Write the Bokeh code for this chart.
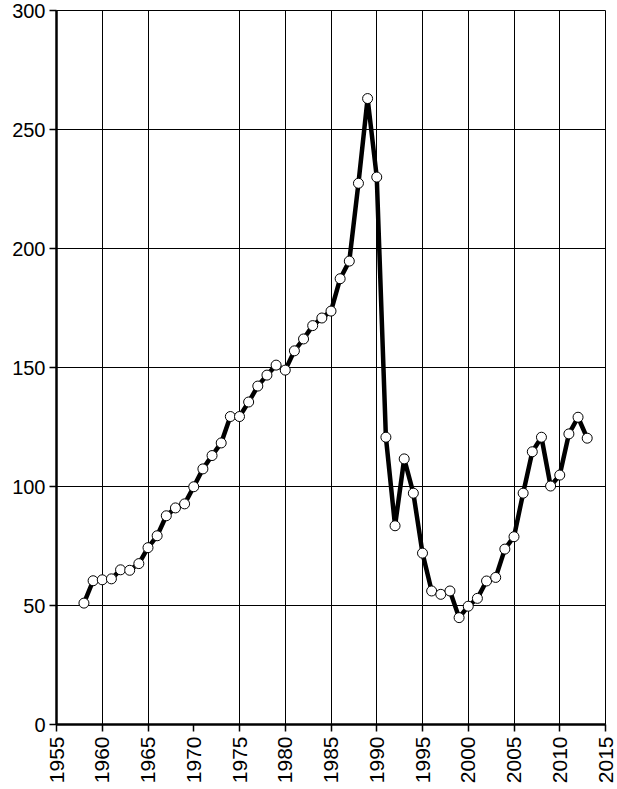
from bokeh.plotting import figure
from bokeh.models import Range1d, FixedTicker
from bokeh.embed import file_html
from bokeh.resources import INLINE
import math

years = list(range(1958, 2014))
values = [51, 60.4, 60.8, 61.2, 65, 64.8, 67.6, 74.3, 79.3, 87.7,
          91, 92.7, 99.9, 107.4, 113, 118.3, 129.4, 129.4, 135.5, 142.2,
          146.8, 151, 148.9, 157, 162, 167.6, 170.8, 173.7, 187.3, 194.7,
          227.4, 263, 230, 120.7, 83.5, 111.6, 97.2, 72, 56.1, 54.7,
          56.1, 44.9, 49.7, 53, 60.3, 61.8, 73.7, 78.9, 97.2, 114.6,
          120.7, 100.2, 104.8, 122.1, 129.1, 120.3]

x_ticks = list(range(1955, 2016, 5))
x_grid_ticks = [1960, 1965, 1975, 1980, 1985, 1990, 1995, 2000, 2005, 2010, 2015]
y_ticks = list(range(0, 301, 50))

p = figure(width=617, height=789, output_backend="svg", toolbar_location=None,
           x_range=Range1d(1955, 2015), y_range=Range1d(0, 300),
           min_border_left=56, min_border_right=12, min_border_top=10, min_border_bottom=65)
p.background_fill_color = "white"
p.border_fill_color = "white"
p.outline_line_color = "black"
p.outline_line_width = 1

p.xaxis.ticker = FixedTicker(ticks=x_ticks)
p.yaxis.ticker = FixedTicker(ticks=y_ticks)
p.xgrid.ticker = FixedTicker(ticks=x_grid_ticks)
p.ygrid.ticker = FixedTicker(ticks=y_ticks)
for g in (p.xgrid, p.ygrid):
    g.grid_line_color = "black"
    g.grid_line_width = 1
    g.grid_line_alpha = 1

for ax in (p.xaxis, p.yaxis):
    ax.axis_line_color = "black"
    ax.axis_line_width = 2.5
    ax.major_tick_line_color = "black"
    ax.major_tick_line_width = 1.5
    ax.major_tick_out = 7
    ax.major_tick_in = 0
    ax.minor_tick_line_color = None
    ax.major_label_text_font = "Liberation Sans"
    ax.major_label_text_color = "black"

p.yaxis.major_label_text_font_size = "20px"
p.yaxis.major_label_standoff = 4
p.xaxis.major_label_text_font_size = "21px"
p.xaxis.major_label_orientation = math.pi / 2
p.xaxis.major_label_standoff = 5

p.line(years, values, line_color="black", line_width=4.5)
p.scatter(years, values, size=10, fill_color="white", line_color="black", line_width=1)

open("out.html", "w").write(file_html(p, INLINE))
